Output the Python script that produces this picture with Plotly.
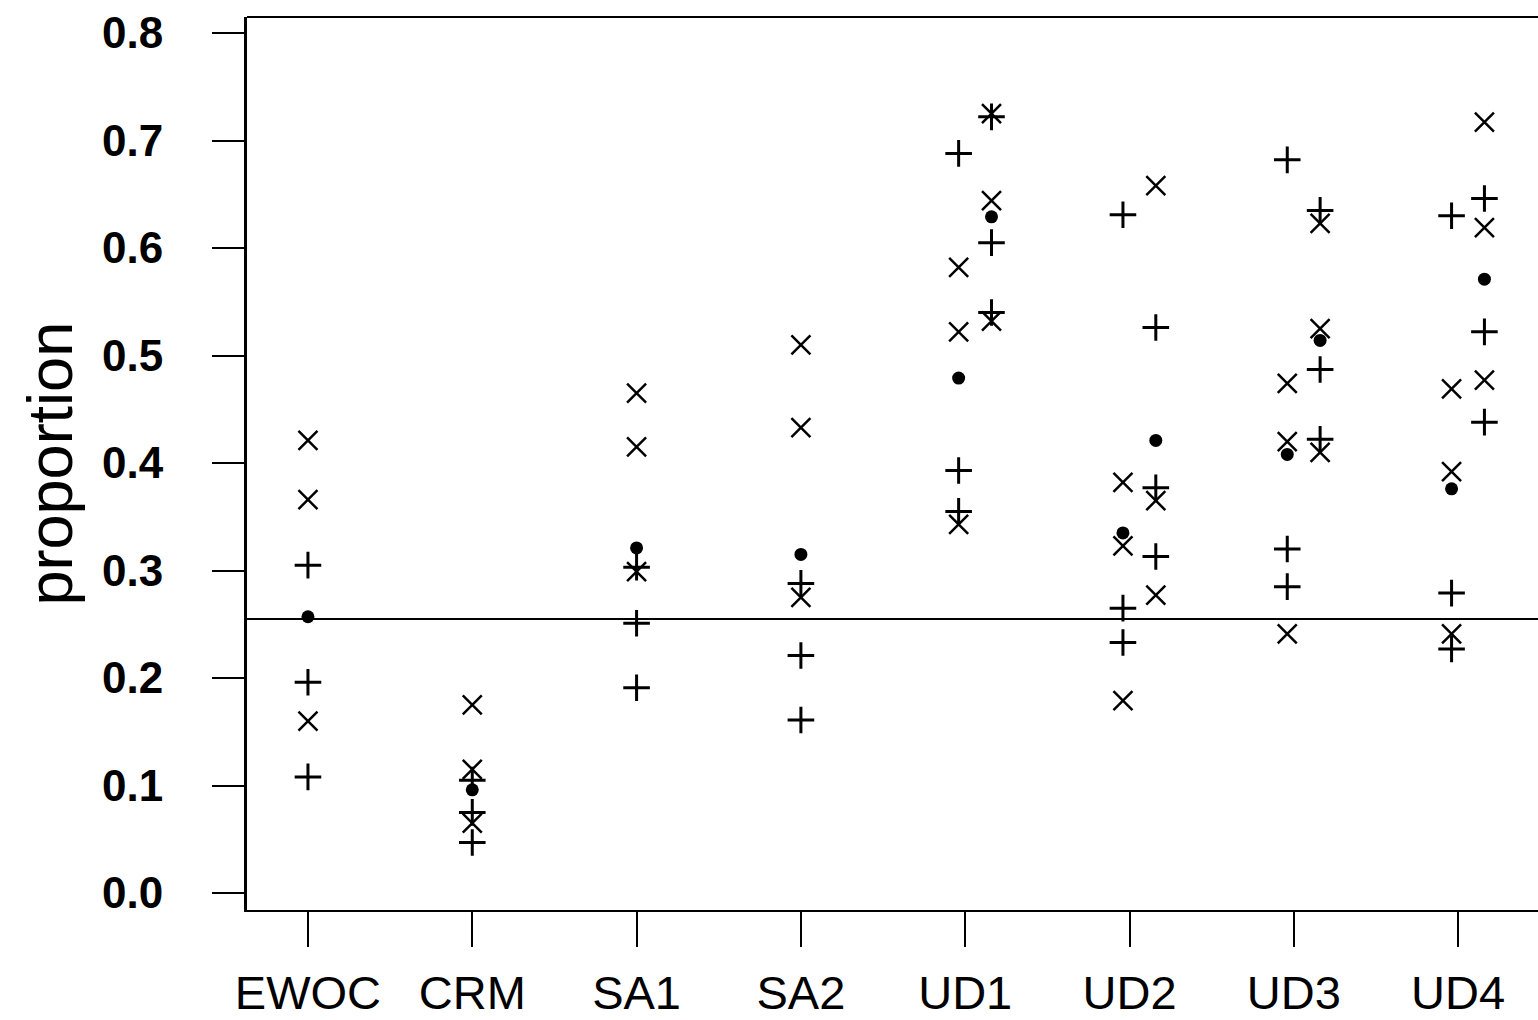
import plotly.graph_objects as go

categories = ["EWOC", "CRM", "SA1", "SA2", "UD1", "UD2", "UD3", "UD4"]
y_ticks = [0.0, 0.1, 0.2, 0.3, 0.4, 0.5, 0.6, 0.7, 0.8]
ref_level = 0.255

# "x" markers: category, column within category (C centre, L left, R right), value
xm_cat = ["EWOC", "EWOC", "EWOC", "CRM", "CRM", "CRM", "SA1", "SA1", "SA1",
          "SA2", "SA2", "SA2", "UD1", "UD1", "UD1", "UD1", "UD1", "UD1",
          "UD2", "UD2", "UD2", "UD2", "UD2", "UD2", "UD3", "UD3", "UD3",
          "UD3", "UD3", "UD3", "UD4", "UD4", "UD4", "UD4", "UD4", "UD4"]
xm_col = ["C", "C", "C", "C", "C", "C", "C", "C", "C",
          "C", "C", "C", "L", "L", "L", "R", "R", "R",
          "L", "L", "L", "R", "R", "R", "L", "L", "L",
          "R", "R", "R", "L", "L", "L", "R", "R", "R"]
xm_val = [0.421, 0.366, 0.160, 0.175, 0.115, 0.065, 0.465, 0.415, 0.299,
          0.510, 0.433, 0.275, 0.582, 0.522, 0.343, 0.725, 0.644, 0.532,
          0.382, 0.323, 0.179, 0.658, 0.365, 0.277, 0.474, 0.420, 0.241,
          0.623, 0.525, 0.410, 0.469, 0.392, 0.241, 0.717, 0.619, 0.477]

# "+" markers
pm_cat = ["EWOC", "EWOC", "EWOC", "CRM", "CRM", "CRM", "SA1", "SA1", "SA1",
          "SA2", "SA2", "SA2", "UD1", "UD1", "UD1", "UD1", "UD1", "UD1",
          "UD2", "UD2", "UD2", "UD2", "UD2", "UD2", "UD3", "UD3", "UD3",
          "UD3", "UD3", "UD3", "UD4", "UD4", "UD4", "UD4", "UD4", "UD4"]
pm_col = ["C", "C", "C", "C", "C", "C", "C", "C", "C",
          "C", "C", "C", "L", "L", "L", "R", "R", "R",
          "L", "L", "L", "R", "R", "R", "L", "L", "L",
          "R", "R", "R", "L", "L", "L", "R", "R", "R"]
pm_val = [0.305, 0.196, 0.108, 0.105, 0.075, 0.047, 0.303, 0.251, 0.191,
          0.288, 0.221, 0.161, 0.688, 0.393, 0.355, 0.722, 0.605, 0.540,
          0.631, 0.265, 0.233, 0.526, 0.377, 0.313, 0.682, 0.320, 0.285,
          0.635, 0.487, 0.422, 0.630, 0.279, 0.227, 0.646, 0.522, 0.438]

# filled dots
dm_cat = ["EWOC", "CRM", "SA1", "SA2", "UD1", "UD1", "UD2", "UD2",
          "UD3", "UD3", "UD4", "UD4"]
dm_col = ["C", "C", "C", "C", "L", "R", "L", "R", "L", "R", "L", "R"]
dm_val = [0.257, 0.096, 0.321, 0.315, 0.479, 0.629, 0.335, 0.421,
          0.408, 0.514, 0.376, 0.571]

col_offset = {"C": 0.0, "L": -0.04, "R": 0.16}


def xpos(cats, cols):
    return [categories.index(c) + col_offset[k] for c, k in zip(cats, cols)]


FONT = "Liberation Sans, Arial, sans-serif"

fig = go.Figure()
fig.add_trace(go.Scatter(
    x=xpos(xm_cat, xm_col), y=xm_val, mode="markers",
    marker=dict(symbol="x-thin-open", size=19, color="black",
                line=dict(color="black", width=2.5)),
    showlegend=False))
fig.add_trace(go.Scatter(
    x=xpos(pm_cat, pm_col), y=pm_val, mode="markers",
    marker=dict(symbol="cross-thin-open", size=19, color="black",
                line=dict(color="black", width=3)),
    showlegend=False))
fig.add_trace(go.Scatter(
    x=xpos(dm_cat, dm_col), y=dm_val, mode="markers",
    marker=dict(symbol="circle", size=13, color="black",
                line=dict(width=0)),
    showlegend=False))

fig.add_hline(y=ref_level, line=dict(color="black", width=2))
# top border of the frame
fig.add_shape(type="line", xref="paper", yref="paper", x0=0, x1=1, y0=1, y1=1,
              line=dict(color="black", width=2))

fig.add_annotation(text="proportion", xref="paper", yref="paper",
                   x=-0.1526, y=0.5, xanchor="center", yanchor="middle",
                   textangle=-90, showarrow=False,
                   font=dict(family=FONT, size=63, color="black"))

fig.update_xaxes(
    range=[-0.371, 7.486], tickmode="array",
    tickvals=list(range(len(categories))), ticktext=categories,
    ticks="outside", ticklen=35, tickwidth=2, tickcolor="black",
    showline=True, linecolor="black", linewidth=2, showgrid=False,
    zeroline=False, ticklabelstandoff=6,
    tickfont=dict(family=FONT, size=47, color="black"))
fig.update_yaxes(
    range=[-0.0158, 0.8149], tickmode="array", tickvals=y_ticks,
    ticktext=[f"{v:.1f}" for v in y_ticks],
    ticks="outside", ticklen=32, tickwidth=2, tickcolor="black",
    showline=True, linecolor="black", linewidth=3, showgrid=False,
    zeroline=False, ticklabelstandoff=40,
    tickfont=dict(family=FONT, size=44, color="black", weight="bold"))

fig.update_layout(
    width=1538, height=1020,
    margin=dict(l=247, r=0, t=17, b=110),
    paper_bgcolor="white", plot_bgcolor="white",
    showlegend=False)

fig.write_html("out.html")
